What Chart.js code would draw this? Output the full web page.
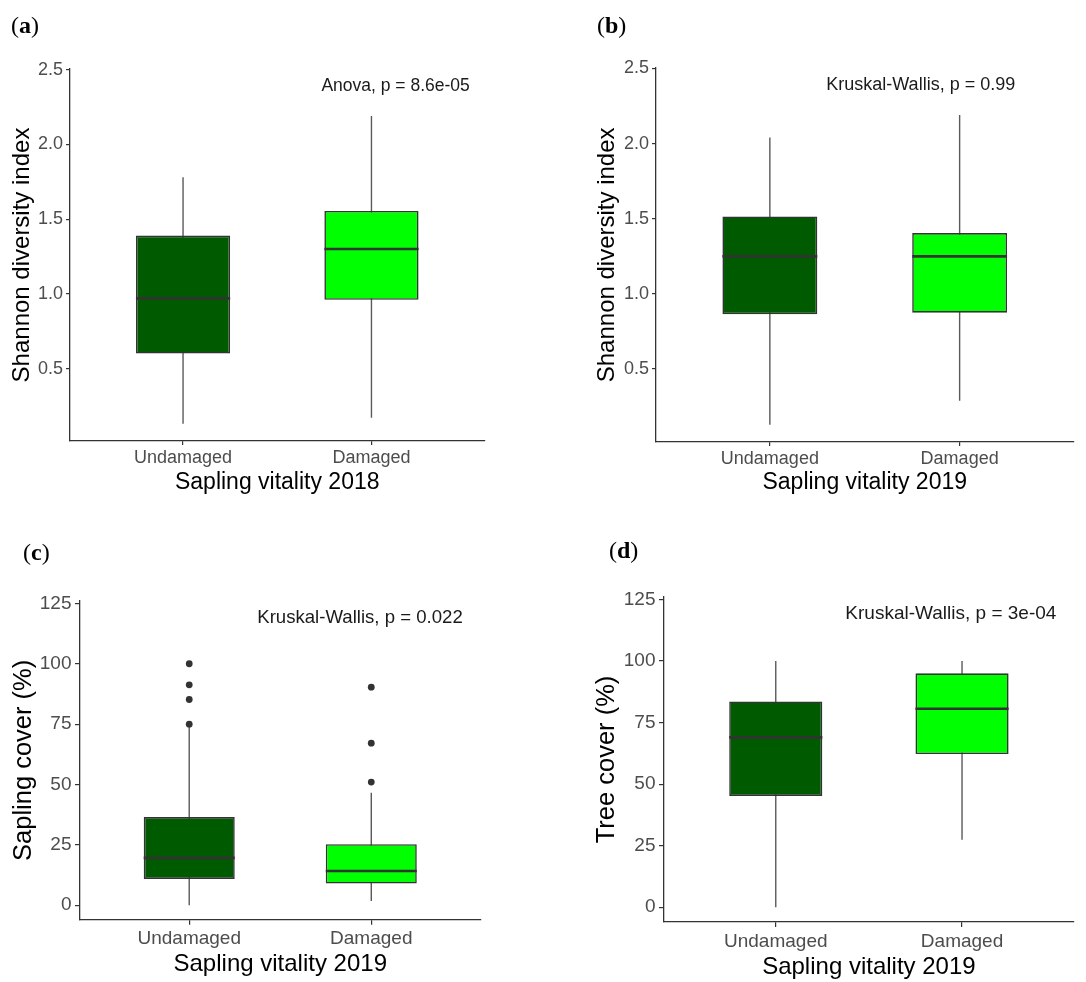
<!DOCTYPE html>
<html>
<head>
<meta charset="utf-8">
<script src="https://cdn.jsdelivr.net/npm/chart.js@4.4.1/dist/chart.umd.min.js"></script>
<style>
  html, body { margin: 0; padding: 0; background: #fff; }
  #page { position: relative; width: 1086px; height: 982px; overflow: hidden; }
  .panel { position: absolute; }
  .tag { position: absolute; font-family: "Liberation Serif", "DejaVu Serif", serif; font-size: 24px; line-height: 24px; color: #000; }
</style>
</head>
<body>
<div id="page">
  <div class="panel" style="left:0;top:0;width:543px;height:500px"><canvas id="chartA"></canvas></div>
  <div class="panel" style="left:543px;top:0;width:543px;height:500px"><canvas id="chartB"></canvas></div>
  <div class="panel" style="left:0;top:491px;width:543px;height:491px"><canvas id="chartC"></canvas></div>
  <div class="panel" style="left:543px;top:491px;width:543px;height:491px"><canvas id="chartD"></canvas></div>
  <div class="tag" style="left:11px;top:12.5px">(<b>a</b>)</div>
  <div class="tag" style="left:597px;top:12.5px">(<b>b</b>)</div>
  <div class="tag" style="left:23px;top:539.5px">(<b>c</b>)</div>
  <div class="tag" style="left:609px;top:537.5px">(<b>d</b>)</div>
</div>
<script>
// categories and tick labels
const categories = ['Undamaged', 'Damaged'];
const shannonTicks = [0.5, 1.0, 1.5, 2.0, 2.5];
const coverTicks = [0, 25, 50, 75, 100, 125];

// (a) Shannon diversity, vitality 2018
const aLow    = [0.13, 0.17];
const aQ1     = [0.60, 0.96];
const aMedian = [0.97, 1.30];
const aQ3     = [1.39, 1.555];
const aHigh   = [1.78, 2.19];
const aOut    = [[], []];

// (b) Shannon diversity, vitality 2019
const bLow    = [0.13, 0.29];
const bQ1     = [0.865, 0.875];
const bMedian = [1.25, 1.25];
const bQ3     = [1.515, 1.405];
const bHigh   = [2.04, 2.19];
const bOut    = [[], []];

// (c) Sapling cover, vitality 2019
const cLow    = [0, 1.7];
const cQ1     = [10.9, 9.0];
const cMedian = [19.6, 14.2];
const cQ3     = [36.5, 25.3];
const cHigh   = [74, 46.6];
const cOut    = [[75, 85.2, 91.3, 100], [51, 67.1, 90.3]];

// (d) Tree cover, vitality 2019
const dLow    = [0, 27.4];
const dQ1     = [45.2, 62.2];
const dMedian = [69.0, 80.6];
const dQ3     = [83.6, 95.0];
const dHigh   = [100, 100];
const dOut    = [[], []];

const pLabels = ['Anova, p = 8.6e-05', 'Kruskal-Wallis, p = 0.99',
                 'Kruskal-Wallis, p = 0.022', 'Kruskal-Wallis, p = 3e-04'];

const FONT = '"Liberation Sans", Arial, sans-serif';
const boxColors = ['#005a00', '#00ff00'];
const ink = '#333333';
const BOX_HALF = 0.25;   // half the box width in x units (barPercentage 0.5)

// p-value text, placed through the chart scales
const pLabelPlugin = {
  id: 'pLabel',
  afterDatasetsDraw(chart, args, opts) {
    const {ctx, scales: {x, y}} = chart;
    ctx.save();
    ctx.font = opts.size + 'px ' + FONT;
    ctx.fillStyle = '#1a1a1a';
    ctx.textAlign = 'center';
    ctx.textBaseline = 'middle';
    ctx.fillText(opts.text, x.getPixelForValue(opts.x), y.getPixelForValue(opts.y));
    ctx.restore();
  }
};

function makeBoxChart(id, d, p) {
  var whiskers = [], medians = [], outliers = [], boxes = [];
  d.low.forEach(function(lo, i) {
    var x = i + 1;
    whiskers.push({x: x, y: lo}, {x: x, y: d.high[i]}, {x: x, y: null});
    medians.push({x: x - BOX_HALF, y: d.median[i]}, {x: x + BOX_HALF, y: d.median[i]}, {x: x, y: null});
    boxes.push({x: x, y: [d.q1[i], d.q3[i]]});
    d.out[i].forEach(function(v) { outliers.push({x: x, y: v}); });
  });

  return new Chart(document.getElementById(id), {
    type: 'bar',
    data: {
      datasets: [
        { type: 'line', data: whiskers, order: 3, borderColor: '#5a5a5a', borderWidth: 1.4,
          pointRadius: 0, fill: false, spanGaps: false },
        { type: 'bar', data: boxes, order: 2, backgroundColor: boxColors, borderColor: ink,
          borderWidth: 1.6, borderSkipped: false, categoryPercentage: 1, barPercentage: 0.5 },
        { type: 'line', data: medians, order: 1, borderColor: ink, borderWidth: 2.6,
          pointRadius: 0, fill: false, spanGaps: false },
        { type: 'scatter', data: outliers, order: 0, pointRadius: 3.4,
          pointBackgroundColor: ink, pointBorderWidth: 0, showLine: false }
      ]
    },
    options: {
      responsive: true,
      maintainAspectRatio: false,
      animation: false,
      events: [],
      layout: { padding: { left: p.padLeft, right: p.padRight, top: p.padTop, bottom: 0 } },
      plugins: {
        legend: { display: false },
        tooltip: { enabled: false },
        pLabel: { text: p.label, x: p.labelX, y: p.labelY, size: p.labelSize }
      },
      scales: {
        x: {
          type: 'linear', min: 0.4, max: 2.6, offset: false,
          afterBuildTicks: function(s) { s.ticks = categories.map(function(c, i) { return {value: i + 1}; }); },
          afterFit: function(s) { s.height = p.xHeight; },
          ticks: { callback: function(v) { return categories[v - 1]; }, color: '#4d4d4d',
                   font: {family: FONT, size: p.tickSize}, padding: p.xTickPad, autoSkip: false, maxRotation: 0 },
          grid: { display: true, drawOnChartArea: false, drawTicks: true, tickLength: p.tickLen,
                  color: ink, lineWidth: 1.2, offset: false },
          border: { display: true, color: ink, width: 1.3 },
          title: { display: true, text: p.xTitle, color: '#000',
                   font: {family: FONT, size: p.xTitleSize}, padding: {top: 0, bottom: p.xTitlePad} }
        },
        y: {
          type: 'linear', min: p.yMin, max: p.yMax, beginAtZero: false,
          afterBuildTicks: function(s) { s.ticks = p.yTicks.map(function(v) { return {value: v}; }); },
          afterFit: function(s) { s.width = p.yWidth; },
          ticks: { callback: function(v) { return v.toFixed(p.decimals); }, color: '#4d4d4d',
                   font: {family: FONT, size: p.tickSize}, padding: p.yTickPad },
          grid: { display: true, drawOnChartArea: false, drawTicks: true, tickLength: p.tickLen,
                  color: ink, lineWidth: 1.2 },
          border: { display: true, color: ink, width: 1.3 },
          title: { display: true, text: p.yTitle, color: '#000',
                   font: {family: FONT, size: p.yTitleSize}, padding: {top: p.yTitlePad, bottom: 0} }
        }
      }
    },
    plugins: [pLabelPlugin]
  });
}

makeBoxChart('chartA',
  {low: aLow, q1: aQ1, median: aMedian, q3: aQ3, high: aHigh, out: aOut},
  {padLeft: 0, padRight: 58.5, padTop: 69, yWidth: 70, xHeight: 59,
   tickSize: 18, xTitleSize: 23, yTitleSize: 24, xTitlePad: 3.2, yTitlePad: 7.6,
   xTickPad: 2.5, yTickPad: 3, tickLen: 4, yMin: 0.015, yMax: 2.505, yTicks: shannonTicks, decimals: 1,
   xTitle: 'Sapling vitality 2018', yTitle: 'Shannon diversity index',
   label: pLabels[0], labelX: 2.128, labelY: 2.39, labelSize: 17.5});

makeBoxChart('chartB',
  {low: bLow, q1: bQ1, median: bMedian, q3: bQ3, high: bHigh, out: bOut},
  {padLeft: 42, padRight: 12.5, padTop: 67.7, yWidth: 71, xHeight: 58,
   tickSize: 18, xTitleSize: 23, yTitleSize: 24, xTitlePad: 3.2, yTitlePad: 7.6,
   xTickPad: 2.5, yTickPad: 3, tickLen: 4, yMin: 0.015, yMax: 2.505, yTicks: shannonTicks, decimals: 1,
   xTitle: 'Sapling vitality 2019', yTitle: 'Shannon diversity index',
   label: pLabels[1], labelX: 1.795, labelY: 2.39, labelSize: 18});

makeBoxChart('chartC',
  {low: cLow, q1: cQ1, median: cMedian, q3: cQ3, high: cHigh, out: cOut},
  {padLeft: 2, padRight: 62.5, padTop: 110, yWidth: 78, xHeight: 62.3,
   tickSize: 19, xTitleSize: 24, yTitleSize: 25.5, xTitlePad: 2.8, yTitlePad: 6.9,
   xTickPad: 2.2, yTickPad: 3.5, tickLen: 5, yMin: -6, yMax: 126, yTicks: coverTicks, decimals: 0,
   xTitle: 'Sapling vitality 2019', yTitle: 'Sapling cover (%)',
   label: pLabels[2], labelX: 1.938, labelY: 119.2, labelSize: 18.6});

makeBoxChart('chartD',
  {low: dLow, q1: dQ1, median: dMedian, q3: dQ3, high: dHigh, out: dOut},
  {padLeft: 42, padRight: 12.2, padTop: 106, yWidth: 79, xHeight: 60,
   tickSize: 19, xTitleSize: 24, yTitleSize: 25.5, xTitlePad: 0, yTitlePad: 6.9,
   xTickPad: 2.9, yTickPad: 3.5, tickLen: 5, yMin: -6, yMax: 126, yTicks: coverTicks, decimals: 0,
   xTitle: 'Sapling vitality 2019', yTitle: 'Tree cover (%)',
   label: pLabels[3], labelX: 1.94, labelY: 119.3, labelSize: 19});
</script>
</body>
</html>
